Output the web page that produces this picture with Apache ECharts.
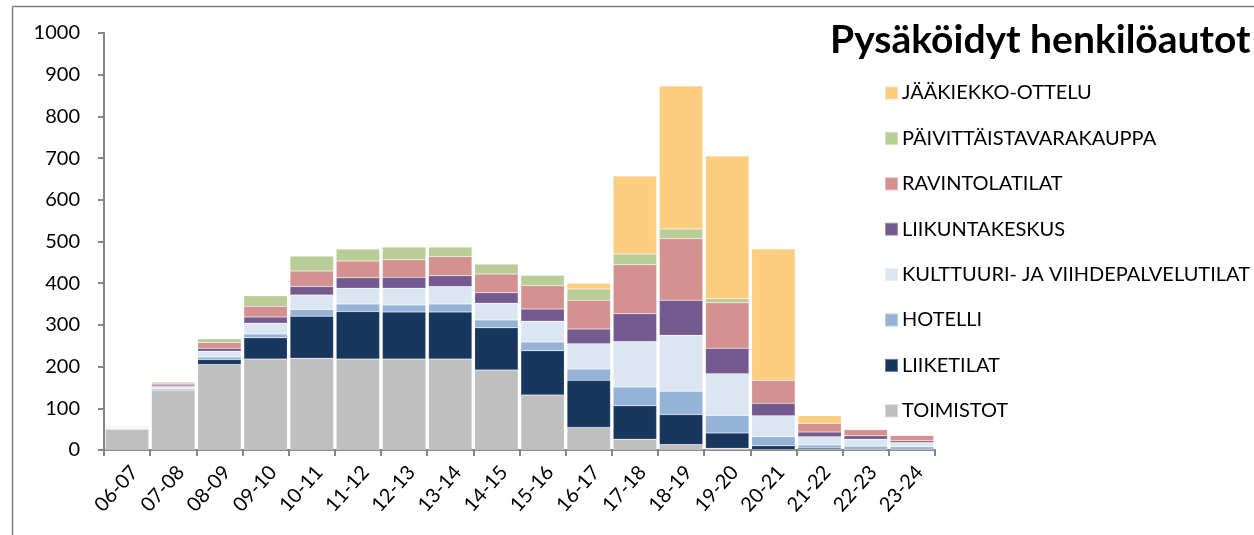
<!DOCTYPE html>
<html><head><meta charset="utf-8">
<script src="https://cdn.jsdelivr.net/npm/echarts@6/dist/echarts.min.js"></script>
<style>html,body{margin:0;padding:0;background:#fff}#c{width:1254px;height:535px}</style>
</head><body><div id="c"></div>
<script>
const categories = ['06-07','07-08','08-09','09-10','10-11','11-12','12-13','13-14','14-15','15-16','16-17','17-18','18-19','19-20','20-21','21-22','22-23','23-24'];
const toimistot   = [50,142,205,218,220,218,218,218,192,132,54,26,13,4,1,2,1,1];
const liiketilat  = [0,2,12,51,101,114,113,113,101,106,113,80,72,37,9,3,1,1];
const hotelli     = [1,3,6,9,16,18,17,19,19,21,27,45,56,42,22,7,7,6];
const kulttuuri   = [3,5,14,26,35,38,40,42,40,50,61,109,134,100,50,20,17,10];
const liikunta    = [1,4,7,15,20,25,26,26,25,29,35,67,84,61,30,11,8,4];
const ravintola   = [2,4,14,26,37,40,42,46,45,56,69,117,148,109,55,21,15,13];
const paivittais  = [0,3,9,25,36,29,31,23,24,25,27,26,23,10,0,0,0,0];
const jaakiekko   = [0,0,0,0,0,0,0,0,0,0,14,187,343,342,315,18,0,0];
const yTicks = [0,100,200,300,400,500,600,700,800,900,1000];

const seriesDefs = [
  ['TOIMISTOT', toimistot, '#BFBFBF'],
  ['LIIKETILAT', liiketilat, '#17375E'],
  ['HOTELLI', hotelli, '#95B3D7'],
  ['KULTTUURI- JA VIIHDEPALVELUTILAT', kulttuuri, '#DCE6F2'],
  ['LIIKUNTAKESKUS', liikunta, '#745A8F'],
  ['RAVINTOLATILAT', ravintola, '#D3928F'],
  ['PÄIVITTÄISTAVARAKAUPPA', paivittais, '#B9CD96'],
  ['JÄÄKIEKKO-OTTELU', jaakiekko, '#FDCD80']
];
const font = 'Lato, "Open Sans", sans-serif';
const chart = echarts.init(document.getElementById('c'), null, {renderer:'canvas'});
chart.setOption({
  animation:false,
  backgroundColor:'#fff',
  textStyle:{fontFamily:font},
  title:{text:'Pysäköidyt henkilöautot', left:825, top:16,
    textStyle:{fontFamily:font, fontWeight:'bold', fontSize:39, color:'#000'}},
  legend:{orient:'vertical', left:879, top:76, itemWidth:13, itemHeight:13, itemGap:21.4,
    icon:'rect',
    data: seriesDefs.map(s=>s[0]).reverse(),
    textStyle:{fontFamily:font, fontSize:20, color:'#000', lineHeight:24, padding:[0,0,0,-1]}},
  grid:{left:104, right:319, top:33, bottom:85, containLabel:false},
  graphic:[
    {type:'line', shape:{x1:12.5,y1:6.5,x2:1254,y2:6.5}, style:{stroke:'#7f7f7f', lineWidth:1.5}},
    {type:'line', shape:{x1:12.5,y1:6.5,x2:12.5,y2:535}, style:{stroke:'#7f7f7f', lineWidth:1.5}}
  ],
  xAxis:{type:'category', data:categories,
    axisLine:{lineStyle:{color:'#868686', width:2}},
    axisTick:{show:true, length:6, lineStyle:{color:'#868686', width:2}, alignWithLabel:false},
    axisLabel:{rotate:48, fontSize:20, color:'#000', margin:12, fontFamily:font, interval:0,
      align:'right', verticalAlign:'top'}},
  yAxis:{type:'value', min:0, max:1000, interval:100,
    axisLine:{show:true, lineStyle:{color:'#868686', width:2}},
    axisTick:{show:true, length:6, lineStyle:{color:'#868686', width:2}},
    splitLine:{show:false},
    axisLabel:{fontSize:20, color:'#000', margin:24, fontFamily:font,
      formatter:v=> yTicks.includes(v) ? String(v) : ''}},
  series: seriesDefs.map(([name, data, color]) => ({
    name, type:'bar', stack:'total', data, barCategoryGap:'6%',
    itemStyle:{color, borderColor:'rgba(255,255,255,0.35)', borderWidth:0.5}
  }))
});
</script></body></html>
